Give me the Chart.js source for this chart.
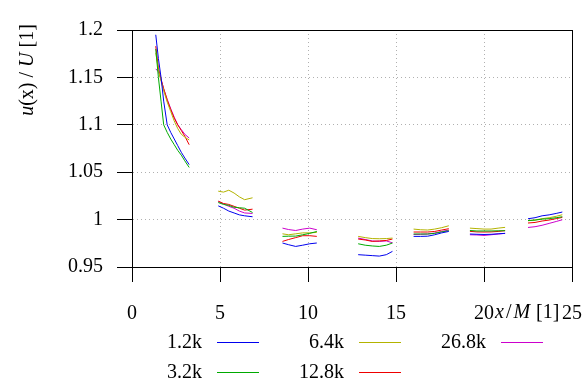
<!DOCTYPE html>
<html lang="en">
<head>
    <meta charset="UTF-8">
    <title>u(x) / U profiles</title>
    <script src="https://cdn.jsdelivr.net/npm/chart.js"></script>
    <style>
        body {
            margin: 0;
            background: white;
        }

        #wrap {
            width: 582px;
            height: 380px;
            position: relative;
        }
    </style>
</head>
<body>
<div id="wrap">
    <canvas id="profileChart"></canvas>
</div>

<script>
    // x/M positions, null marks a gap between measurement stations
    const xValues = [
        1.35, 1.5, 1.65, 1.8, 2.0, 2.2, 2.4, 2.6, 2.8, 3.0, 3.25, null,
        4.9, 5.2, 5.5, 5.8, 6.1, 6.4, 6.85, null,
        8.55, 8.9, 9.3, 9.7, 10.1, 10.5, null,
        12.85, 13.25, 13.65, 14.05, 14.45, 14.8, null,
        16.0, 16.4, 16.8, 17.2, 17.6, 18.0, null,
        19.2, 19.6, 20.0, 20.4, 20.8, 21.2, null,
        22.5, 22.9, 23.3, 23.7, 24.1, 24.45
    ];

    const series12k = [
        1.195, 1.170, 1.150, 1.125, 1.100, 1.092, 1.085, 1.078, 1.071, 1.065, 1.058, null,
        1.0145, 1.012, 1.009, 1.007, 1.005, 1.004, 1.003, null,
        0.9753, 0.9735, 0.9717, 0.973, 0.9745, 0.9753, null,
        0.963, 0.9625, 0.962, 0.9615, 0.963, 0.9665, null,
        0.9823, 0.9823, 0.9825, 0.984, 0.986, 0.9875, null,
        0.9848, 0.9845, 0.9843, 0.9845, 0.985, 0.9855, null,
        1.0009, 1.002, 1.004, 1.005, 1.0065, 1.008
    ];

    const series32k = [
        1.180, 1.150, 1.125, 1.100, 1.092, 1.085, 1.079, 1.073, 1.068, 1.062, 1.055, null,
        1.018, 1.016, 1.015, 1.013, 1.0125, 1.012, 1.0075, null,
        0.9823, 0.9825, 0.9826, 0.984, 0.9855, 0.9875, null,
        0.9745, 0.973, 0.9722, 0.9717, 0.973, 0.9753, null,
        0.9848, 0.9848, 0.9848, 0.9855, 0.987, 0.9883, null,
        0.9885, 0.988, 0.988, 0.988, 0.9882, 0.9883, null,
        0.999, 0.9995, 1.0005, 1.001, 1.002, 1.003
    ];

    const series64k = [
        1.176, 1.158, 1.146, 1.136, 1.124, 1.114, 1.104, 1.096, 1.090, 1.087, 1.084, null,
        1.030, 1.029, 1.031, 1.028, 1.024, 1.021, 1.023, null,
        0.985, 0.984, 0.985, 0.986, 0.986, 0.9865, null,
        0.9823, 0.981, 0.980, 0.9798, 0.980, 0.9805, null,
        0.990, 0.9893, 0.989, 0.990, 0.9915, 0.9935, null,
        0.991, 0.9905, 0.990, 0.990, 0.991, 0.9918, null,
        0.9988, 0.9995, 1.001, 1.002, 1.0035, 1.0051
    ];

    const series128k = [
        1.183, 1.160, 1.148, 1.138, 1.126, 1.116, 1.107, 1.100, 1.094, 1.088, 1.079, null,
        1.0195, 1.017, 1.016, 1.014, 1.012, 1.010, 1.011, null,
        0.977, 0.979, 0.981, 0.983, 0.983, 0.9823, null,
        0.9795, 0.9785, 0.977, 0.9775, 0.978, 0.9795, null,
        0.9869, 0.9869, 0.9869, 0.9875, 0.989, 0.9904, null,
        0.9876, 0.987, 0.9869, 0.987, 0.9875, 0.9883, null,
        0.9964, 0.997, 0.9985, 0.9995, 1.001, 1.0023
    ];

    const series268k = [
        1.159, 1.156, 1.148, 1.138, 1.127, 1.117, 1.108, 1.100, 1.095, 1.090, 1.086, null,
        1.019, 1.0165, 1.014, 1.012, 1.009, 1.007, 1.0065, null,
        0.991, 0.9895, 0.9885, 0.990, 0.991, 0.9893, null,
        0.9805, 0.979, 0.9775, 0.977, 0.9775, 0.9755, null,
        0.9843, 0.9845, 0.9848, 0.9858, 0.9875, 0.989, null,
        0.984, 0.9838, 0.9833, 0.984, 0.9848, 0.9855, null,
        0.9917, 0.9925, 0.994, 0.996, 0.998, 0.9998
    ];

    const seriesLabels = ['1.2k', '3.2k', '6.4k', '12.8k', '26.8k'];
    const seriesValues = [series12k, series32k, series64k, series128k, series268k];
    const seriesColors = ['#0000ee', '#00aa00', '#b3b300', '#ee0000', '#cc00cc'];

    const FONT = 'Liberation Serif';

    function toPoints(values) {
        return xValues.map((x, i) => ({ x: x, y: values[i] }));
    }

    // draws text made of pieces in different styles, starting at x
    // each piece: [text, style, extra space after]
    function drawRich(ctx, parts, x, y) {
        parts.forEach(([text, style, gap]) => {
            ctx.font = style + ' 20px "' + FONT + '"';
            ctx.fillText(text, x, y);
            x += ctx.measureText(text).width + (gap || 0);
        });
    }

    function richWidth(ctx, parts) {
        let w = 0;
        parts.forEach(([text, style, gap]) => {
            ctx.font = style + ' 20px "' + FONT + '"';
            w += ctx.measureText(text).width + (gap || 0);
        });
        return w;
    }

    const decorations = {
        id: 'decorations',
        afterDraw(chart) {
            const ctx = chart.ctx;
            const area = chart.chartArea;

            // frame round the plot
            ctx.save();
            ctx.strokeStyle = '#000';
            ctx.lineWidth = 1;
            ctx.strokeRect(area.left + 0.5, area.top + 0.5, area.right - area.left, area.bottom - area.top);
            ctx.restore();

            ctx.save();
            ctx.fillStyle = '#000';
            ctx.textBaseline = 'middle';
            ctx.textAlign = 'left';

            // x axis title, sits right after the "20" label
            drawRich(ctx, [['x', 'italic', 2], ['/', 'normal', 2], ['M', 'italic', 1], [' [1]', 'normal']], 495, 313);

            // y axis title, rotated
            const yTitle = [['u', 'italic'], ['(x) / ', 'normal'], ['U', 'italic'], [' [1]', 'normal']];
            ctx.translate(28, 70);
            ctx.rotate(-Math.PI / 2);
            drawRich(ctx, yTitle, -richWidth(ctx, yTitle) / 2, 0);
            ctx.restore();

            // legend: 3 columns, filled column by column
            const colText = [202, 344, 486];
            const rowY = [342, 372];
            ctx.save();
            ctx.font = '20px "' + FONT + '"';
            ctx.textBaseline = 'middle';
            ctx.textAlign = 'right';
            seriesLabels.forEach((label, i) => {
                const col = Math.floor(i / 2);
                const row = i % 2;
                const tx = colText[col];
                const ty = rowY[row];
                ctx.fillStyle = '#000';
                ctx.fillText(label, tx, ty + 1);
                ctx.strokeStyle = seriesColors[i];
                ctx.lineWidth = 1;
                ctx.beginPath();
                ctx.moveTo(tx + 15, ty + 0.5);
                ctx.lineTo(tx + 57, ty + 0.5);
                ctx.stroke();
            });
            ctx.restore();
        }
    };

    const ctx = document.getElementById('profileChart').getContext('2d');

    const data = {
        datasets: seriesLabels.map((label, i) => ({
            label: label,
            data: toPoints(seriesValues[i]),
            borderColor: seriesColors[i],
            borderWidth: 1,
            pointRadius: 0,
            fill: false,
            spanGaps: false,
            tension: 0
        }))
    };

    const axisFont = { family: FONT, size: 20 };

    // grid lines dotted (border.dash), tick marks solid black outside the frame
    const gridStyle = {
        color: '#b0b0b0',
        lineWidth: 1,
        drawTicks: true,
        tickColor: '#000',
        tickLength: 15,
        tickWidth: 1,
        tickBorderDash: []
    };

    const config = {
        type: 'line',
        data: data,
        options: {
            responsive: true,
            maintainAspectRatio: false,
            animation: false,
            layout: {
                padding: { top: 30, right: 10, left: 0, bottom: 0 }
            },
            scales: {
                x: {
                    type: 'linear',
                    min: 0,
                    max: 25,
                    afterFit: function(scale) {
                        scale.height = 113;
                        scale.paddingLeft = 0;
                        scale.paddingRight = 0;
                    },
                    ticks: {
                        stepSize: 5,
                        color: '#000',
                        font: axisFont,
                        padding: 20,
                        maxRotation: 0,
                        callback: function(value) { return String(value); }
                    },
                    grid: gridStyle,
                    border: {
                        display: true,
                        color: '#000',
                        dash: [1, 3]
                    }
                },
                y: {
                    min: 0.95,
                    max: 1.2,
                    afterFit: function(scale) {
                        scale.width = 132;
                        scale.paddingTop = 0;
                        scale.paddingBottom = 0;
                    },
                    ticks: {
                        stepSize: 0.05,
                        color: '#000',
                        font: axisFont,
                        padding: 14,
                        callback: function(value) { return String(+value.toFixed(2)); }
                    },
                    grid: gridStyle,
                    border: {
                        display: true,
                        color: '#000',
                        dash: [1, 3]
                    }
                }
            },
            plugins: {
                legend: { display: false },
                title: { display: false },
                tooltip: { enabled: false }
            }
        },
        plugins: [decorations]
    };

    const profileChart = new Chart(ctx, config);
</script>

</body>
</html>
